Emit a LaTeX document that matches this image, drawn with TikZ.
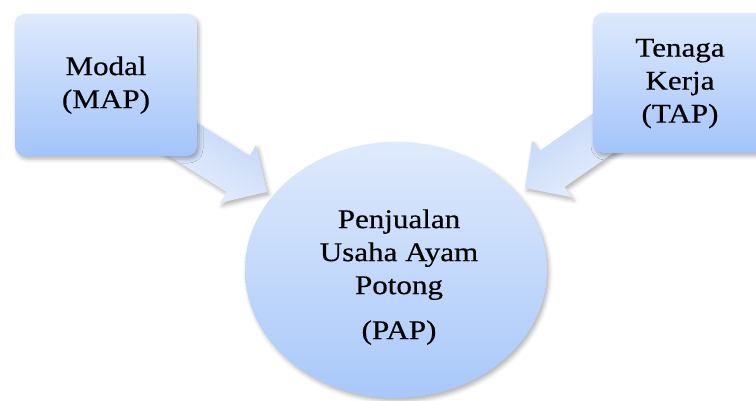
\documentclass[tikz,border=0pt]{standalone}
\usepackage{fontspec}
\setmainfont[FakeBold=0.4]{Liberation Serif}
\usetikzlibrary{calc,shapes.geometric,shadows.blur}
\definecolor{boxtop}{RGB}{221,233,252}
\definecolor{boxbot}{RGB}{163,196,250}
\definecolor{circtop}{RGB}{223,234,252}
\definecolor{circbot}{RGB}{168,200,250}
\definecolor{arrtop}{RGB}{192,212,247}
\definecolor{arrbot}{RGB}{234,241,253}
\newcommand{\stretchtext}[1]{\scalebox{1.15}[1]{\fontsize{27}{33}\selectfont\begin{tabular}{@{}c@{}}#1\end{tabular}}}
\begin{document}
\begin{tikzpicture}[x=1pt,y=1pt,
  softshadow/.style={blur shadow={shadow xshift=2pt,shadow yshift=-3pt,shadow blur radius=4pt,shadow opacity=30}},
  boxstyle/.style={rounded corners=10pt, top color=boxtop, bottom color=boxbot, softshadow, inner sep=0pt, text=black},
  blockarrow/.style={top color=arrtop, bottom color=arrbot, softshadow}]
\useasboundingbox (0,0) rectangle (756,-401);
\clip (0,0) rectangle (756,-401);
% tips of the two block arrows
\coordinate (ltip) at (267,-192);
\coordinate (rtip) at (525,-188);
% left block arrow, direction -32 deg
\path[blockarrow, shading angle=-32] (ltip)
  -- ($(ltip)+(-32:-34)+(58:34)$)
  -- ($(ltip)+(-32:-34)+(58:21.5)$)
  -- ($(ltip)+(-32:-130)+(58:21.5)$)
  -- ($(ltip)+(-32:-130)+(58:-21.5)$)
  -- ($(ltip)+(-32:-34)+(58:-21.5)$)
  -- ($(ltip)+(-32:-34)+(58:-34)$)
  -- cycle;
% right block arrow, direction 215 deg
\path[blockarrow, shading angle=35] (rtip)
  -- ($(rtip)+(215:-33)+(125:34.5)$)
  -- ($(rtip)+(215:-33)+(125:22)$)
  -- ($(rtip)+(215:-130)+(125:22)$)
  -- ($(rtip)+(215:-130)+(125:-22)$)
  -- ($(rtip)+(215:-33)+(125:-22)$)
  -- ($(rtip)+(215:-33)+(125:-34.5)$)
  -- cycle;
% boxes
\node[boxstyle, minimum width=182pt, minimum height=142pt] (modal) at (106,-85) {\stretchtext{Modal\\(MAP)}};
\node[boxstyle, minimum width=174pt, minimum height=140pt] (tenaga) at (680,-83) {\stretchtext{Tenaga\\Kerja\\(TAP)}};
% central ellipse
\node[ellipse, minimum width=302pt, minimum height=256pt, inner sep=0pt, top color=circtop, bottom color=circbot, softshadow] (pap) at (396,-270) {};
\node[text=black, inner sep=0pt] (paptext) at (399,-277) {\stretchtext{Penjualan\\Usaha Ayam\\Potong\\[12pt](PAP)}};
\end{tikzpicture}
\end{document}
